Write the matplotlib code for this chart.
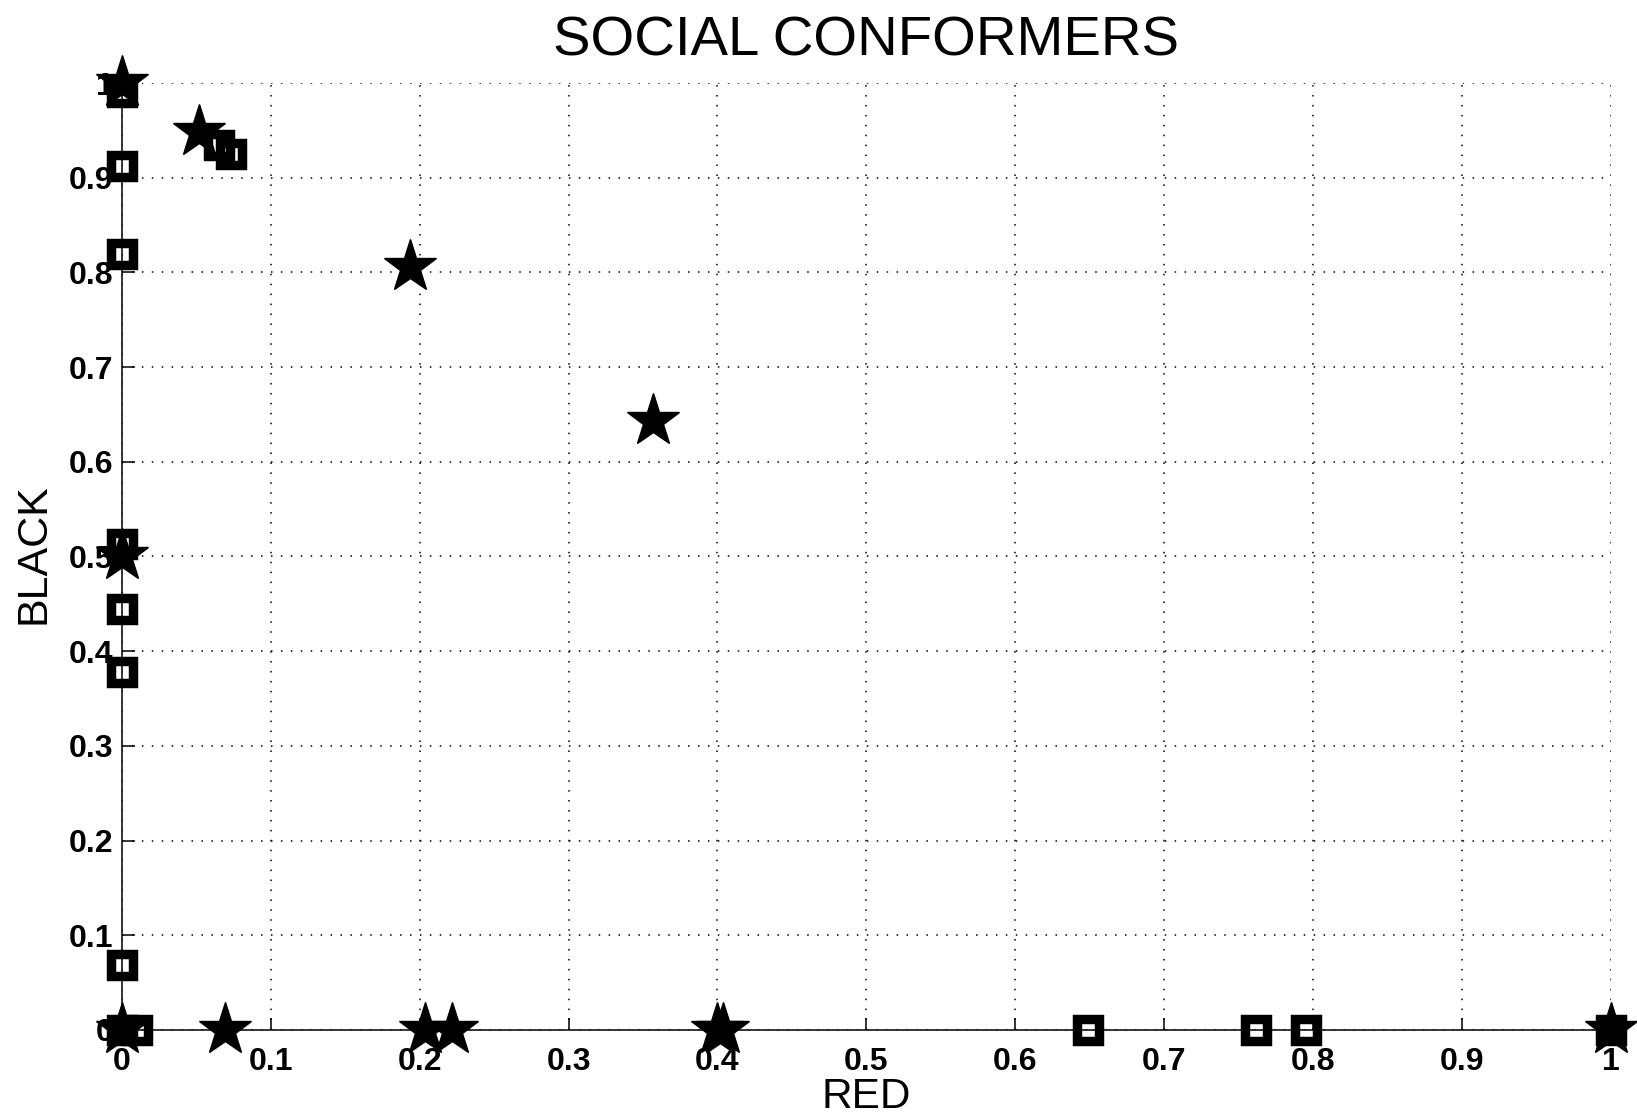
import matplotlib
matplotlib.use("Agg")
import matplotlib.pyplot as plt

plt.rcParams["font.family"] = ["Liberation Sans", "DejaVu Sans"]

# hollow squares
sq_red = [0.0, 0.065, 0.073, 0.0, 0.0, 0.0, 0.0, 0.0, 0.0, 0.0, 0.010, 0.649, 0.762, 0.795, 1.0]
sq_black = [0.99, 0.9345, 0.9255, 0.912, 0.819, 0.513, 0.4445, 0.3775, 0.069, 0.0, 0.0, 0.0, 0.0, 0.0, 0.0]

# filled stars
st_red = [0.0, 0.052, 0.1935, 0.3566, 0.0, 0.0, 0.069, 0.2035, 0.222, 0.3996, 0.4036, 1.0]
st_black = [1.0, 0.948, 0.8057, 0.6429, 0.5, 0.0, 0.0, 0.0, 0.0, 0.0, 0.0, 0.0]

ticks = [0, 0.1, 0.2, 0.3, 0.4, 0.5, 0.6, 0.7, 0.8, 0.9, 1]
tick_labels = ["0", "0.1", "0.2", "0.3", "0.4", "0.5", "0.6", "0.7", "0.8", "0.9", "1"]

fig = plt.figure(figsize=(16.37, 11.16), dpi=100)
ax = fig.add_axes([0.0745, 0.0771, 0.9095, 0.8485])

ax.plot(sq_red, sq_black, linestyle="none", marker="s", markersize=16.2,
        markerfacecolor="none", markeredgecolor="k", markeredgewidth=6.8,
        clip_on=False, zorder=3)
ax.plot(st_red, st_black, linestyle="none", marker="*", markersize=40,
        markerfacecolor="k", markeredgecolor="k", markeredgewidth=1,
        clip_on=False, zorder=4)

ax.set_xlim(0, 1)
ax.set_ylim(0, 1)
ax.set_xticks(ticks)
ax.set_xticklabels(tick_labels)
ax.set_yticks(ticks)
ax.set_yticklabels(tick_labels)

for lbl in ax.get_xticklabels() + ax.get_yticklabels():
    lbl.set_fontweight("bold")
ax.tick_params(axis="both", direction="in", length=9, width=1.1,
               labelsize=23, colors="k")
ax.tick_params(axis="x", pad=12)
ax.tick_params(axis="y", pad=6)

ax.spines["top"].set_visible(False)
ax.spines["right"].set_visible(False)
ax.spines["left"].set_linewidth(1.1)
ax.spines["bottom"].set_linewidth(1.1)

ax.grid(True, color="k", linewidth=1.1, linestyle=(0, (1, 5.5)))
ax.set_axisbelow(True)

ax.set_title("SOCIAL CONFORMERS", fontsize=40.5, pad=20)
ax.set_xlabel("RED", fontsize=30.5)
ax.set_ylabel("BLACK", fontsize=31)
ax.xaxis.set_label_coords(0.5, -0.05)
ax.yaxis.set_label_coords(-0.046, 0.503)

fig.savefig("out.png", dpi=100)
